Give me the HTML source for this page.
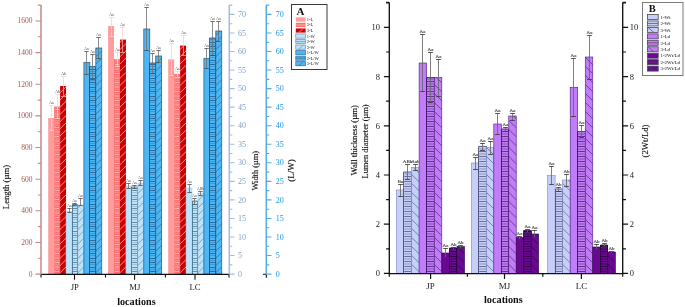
<!DOCTYPE html>
<html><head><meta charset="utf-8"><title>chart</title>
<style>
html,body{margin:0;padding:0;background:#fff;}
svg{display:block;font-family:"Liberation Serif", serif;will-change:transform;}
</style></head><body>
<svg width="685" height="307" viewBox="0 0 685 307">
<rect width="685" height="307" fill="#fff"/>
<defs>

</defs>
<rect x="48.20" y="118.00" width="5.95" height="156.10" fill="#FF9C9C"/>
<path d="M51.50 105.50V118.00M49.00 105.50h5" stroke="#FFCFCF" stroke-width="0.8" fill="none"/>
<path d="M51.50 118.00V130.50M49.00 130.50h5" stroke="#FFCACA" stroke-width="0.8" fill="none"/>
<text x="51.50" y="104.20" font-size="3.8" fill="#444" text-anchor="middle">Aa</text>
<rect x="54.15" y="106.50" width="5.95" height="167.60" fill="#FF6E6E"/>
<path d="M54.95 271.50H59.30M54.95 267.00H59.30M54.95 262.50H59.30M54.95 258.00H59.30M54.95 253.50H59.30M54.95 249.00H59.30M54.95 244.50H59.30M54.95 240.00H59.30M54.95 235.50H59.30M54.95 231.00H59.30M54.95 226.50H59.30M54.95 222.00H59.30M54.95 217.50H59.30M54.95 213.00H59.30M54.95 208.50H59.30M54.95 204.00H59.30M54.95 199.50H59.30M54.95 195.00H59.30M54.95 190.50H59.30M54.95 186.00H59.30M54.95 181.50H59.30M54.95 177.00H59.30M54.95 172.50H59.30M54.95 168.00H59.30M54.95 163.50H59.30M54.95 159.00H59.30M54.95 154.50H59.30M54.95 150.00H59.30M54.95 145.50H59.30M54.95 141.00H59.30M54.95 136.50H59.30M54.95 132.00H59.30M54.95 127.50H59.30M54.95 123.00H59.30M54.95 118.50H59.30M54.95 114.00H59.30M54.95 109.50H59.30" stroke="#FFE0E0" stroke-width="0.6" fill="none"/>
<path d="M54.95 269.25H59.30M54.95 264.75H59.30M54.95 260.25H59.30M54.95 255.75H59.30M54.95 251.25H59.30M54.95 246.75H59.30M54.95 242.25H59.30M54.95 237.75H59.30M54.95 233.25H59.30M54.95 228.75H59.30M54.95 224.25H59.30M54.95 219.75H59.30M54.95 215.25H59.30M54.95 210.75H59.30M54.95 206.25H59.30M54.95 201.75H59.30M54.95 197.25H59.30M54.95 192.75H59.30M54.95 188.25H59.30M54.95 183.75H59.30M54.95 179.25H59.30M54.95 174.75H59.30M54.95 170.25H59.30M54.95 165.75H59.30M54.95 161.25H59.30M54.95 156.75H59.30M54.95 152.25H59.30M54.95 147.75H59.30M54.95 143.25H59.30M54.95 138.75H59.30M54.95 134.25H59.30M54.95 129.75H59.30M54.95 125.25H59.30M54.95 120.75H59.30M54.95 116.25H59.30M54.95 111.75H59.30M54.95 107.25H59.30" stroke="#FFE0E0" stroke-width="0.6" stroke-opacity="0.5" fill="none"/>
<path d="M57.50 94.50V106.50M55.00 94.50h5" stroke="#FFCFCF" stroke-width="0.8" fill="none"/>
<path d="M57.50 106.50V118.50M55.00 118.50h5" stroke="#FFD0D0" stroke-width="0.8" fill="none"/>
<text x="57.50" y="93.20" font-size="3.8" fill="#444" text-anchor="middle">Ab</text>
<rect x="60.10" y="86.00" width="5.95" height="188.10" fill="#CC0000"/>
<clipPath id="c1"><rect x="60.10" y="86.00" width="5.95" height="188.10"/></clipPath>
<path clip-path="url(#c1)" d="M60.10 279.90L66.05 274.10M60.10 272.70L66.05 266.90M60.10 265.50L66.05 259.70M60.10 258.30L66.05 252.50M60.10 251.10L66.05 245.30M60.10 243.90L66.05 238.10M60.10 236.70L66.05 230.90M60.10 229.50L66.05 223.70M60.10 222.30L66.05 216.50M60.10 215.10L66.05 209.30M60.10 207.90L66.05 202.10M60.10 200.70L66.05 194.90M60.10 193.50L66.05 187.70M60.10 186.30L66.05 180.50M60.10 179.10L66.05 173.30M60.10 171.90L66.05 166.10M60.10 164.70L66.05 158.90M60.10 157.50L66.05 151.70M60.10 150.30L66.05 144.50M60.10 143.10L66.05 137.30M60.10 135.90L66.05 130.10M60.10 128.70L66.05 122.90M60.10 121.50L66.05 115.70M60.10 114.30L66.05 108.50M60.10 107.10L66.05 101.30M60.10 99.90L66.05 94.10M60.10 92.70L66.05 86.90M60.10 85.50L66.05 79.70" stroke="#FFD0D0" stroke-width="0.7" fill="none"/>
<path d="M63.50 76.50V86.00M61.00 76.50h5" stroke="#FFCFCF" stroke-width="0.8" fill="none"/>
<path d="M63.50 86.00V96.50M61.00 96.50h5" stroke="#F0A0A0" stroke-width="0.8" fill="none"/>
<text x="63.50" y="75.20" font-size="3.8" fill="#444" text-anchor="middle">Ab</text>
<rect x="66.05" y="211.80" width="5.95" height="62.30" fill="#BFE3F8" stroke="#9FC4DC" stroke-width="0.5"/>
<path d="M69.50 208.50V212.50" stroke="#707070" stroke-width="0.8" fill="none"/>
<path d="M67.30 208.50h4.4M67.30 212.50h4.4" stroke="#4c4c4c" stroke-width="0.8" fill="none"/>
<text x="69.50" y="207.20" font-size="3.8" fill="#444" text-anchor="middle">Aa</text>
<rect x="72.00" y="204.50" width="5.95" height="69.60" fill="#BFE3F8"/>
<path d="M72.5 274.1V204.50H77.5V274.1" stroke="#3F6F8E" stroke-width="0.85" fill="none"/>
<path d="M72.30 271.50H77.65M72.30 267.50H77.65M72.30 262.50H77.65M72.30 258.50H77.65M72.30 253.50H77.65M72.30 249.50H77.65M72.30 244.50H77.65M72.30 240.50H77.65M72.30 235.50H77.65M72.30 231.50H77.65M72.30 226.50H77.65M72.30 222.50H77.65M72.30 217.50H77.65M72.30 213.50H77.65M72.30 208.50H77.65" stroke="#3F6F8E" stroke-width="0.75" fill="none"/>
<path d="M72.30 269.50H77.65M72.30 264.50H77.65M72.30 260.50H77.65M72.30 255.50H77.65M72.30 251.50H77.65M72.30 246.50H77.65M72.30 242.50H77.65M72.30 237.50H77.65M72.30 233.50H77.65M72.30 228.50H77.65M72.30 224.50H77.65M72.30 219.50H77.65M72.30 215.50H77.65M72.30 210.50H77.65M72.30 206.50H77.65" stroke="#3F6F8E" stroke-width="0.75" stroke-opacity="0.4" fill="none"/>
<path d="M74.50 203.50V205.50" stroke="#707070" stroke-width="0.8" fill="none"/>
<path d="M72.30 203.50h4.4M72.30 205.50h4.4" stroke="#4c4c4c" stroke-width="0.8" fill="none"/>
<text x="74.50" y="202.20" font-size="3.8" fill="#444" text-anchor="middle">Aa</text>
<rect x="77.95" y="205.00" width="5.95" height="69.10" fill="#BFE3F8" stroke="#9FC4DC" stroke-width="0.5"/>
<clipPath id="c2"><rect x="77.95" y="205.00" width="5.95" height="69.10"/></clipPath>
<path clip-path="url(#c2)" d="M77.95 279.90L83.90 274.10M77.95 272.70L83.90 266.90M77.95 265.50L83.90 259.70M77.95 258.30L83.90 252.50M77.95 251.10L83.90 245.30M77.95 243.90L83.90 238.10M77.95 236.70L83.90 230.90M77.95 229.50L83.90 223.70M77.95 222.30L83.90 216.50M77.95 215.10L83.90 209.30M77.95 207.90L83.90 202.10M77.95 200.70L83.90 194.90" stroke="#4F7F9E" stroke-width="0.6" fill="none"/>
<path d="M80.50 198.50V205.50" stroke="#707070" stroke-width="0.8" fill="none"/>
<path d="M78.30 198.50h4.4M78.30 205.50h4.4" stroke="#4c4c4c" stroke-width="0.8" fill="none"/>
<text x="80.50" y="197.20" font-size="3.8" fill="#444" text-anchor="middle">Aa</text>
<rect x="83.90" y="62.40" width="5.95" height="211.70" fill="#4DB7F5" stroke="#2A5F8A" stroke-width="0.75"/>
<path d="M86.50 51.50V74.50" stroke="#707070" stroke-width="0.8" fill="none"/>
<path d="M84.30 51.50h4.4M84.30 74.50h4.4" stroke="#4c4c4c" stroke-width="0.8" fill="none"/>
<text x="86.50" y="50.20" font-size="3.8" fill="#444" text-anchor="middle">Aa</text>
<rect x="89.85" y="66.60" width="5.95" height="207.50" fill="#4DB7F5"/>
<path d="M89.5 274.1V66.60H95.5V274.1" stroke="#1F4F78" stroke-width="0.85" fill="none"/>
<path d="M90.15 271.50H95.50M90.15 267.50H95.50M90.15 262.50H95.50M90.15 258.50H95.50M90.15 253.50H95.50M90.15 249.50H95.50M90.15 244.50H95.50M90.15 240.50H95.50M90.15 235.50H95.50M90.15 231.50H95.50M90.15 226.50H95.50M90.15 222.50H95.50M90.15 217.50H95.50M90.15 213.50H95.50M90.15 208.50H95.50M90.15 204.50H95.50M90.15 199.50H95.50M90.15 195.50H95.50M90.15 190.50H95.50M90.15 186.50H95.50M90.15 181.50H95.50M90.15 177.50H95.50M90.15 172.50H95.50M90.15 168.50H95.50M90.15 163.50H95.50M90.15 159.50H95.50M90.15 154.50H95.50M90.15 150.50H95.50M90.15 145.50H95.50M90.15 141.50H95.50M90.15 136.50H95.50M90.15 132.50H95.50M90.15 127.50H95.50M90.15 123.50H95.50M90.15 118.50H95.50M90.15 114.50H95.50M90.15 109.50H95.50M90.15 105.50H95.50M90.15 100.50H95.50M90.15 96.50H95.50M90.15 91.50H95.50M90.15 87.50H95.50M90.15 82.50H95.50M90.15 78.50H95.50M90.15 73.50H95.50M90.15 69.50H95.50" stroke="#1F4F78" stroke-width="0.75" fill="none"/>
<path d="M90.15 269.50H95.50M90.15 264.50H95.50M90.15 260.50H95.50M90.15 255.50H95.50M90.15 251.50H95.50M90.15 246.50H95.50M90.15 242.50H95.50M90.15 237.50H95.50M90.15 233.50H95.50M90.15 228.50H95.50M90.15 224.50H95.50M90.15 219.50H95.50M90.15 215.50H95.50M90.15 210.50H95.50M90.15 206.50H95.50M90.15 201.50H95.50M90.15 197.50H95.50M90.15 192.50H95.50M90.15 188.50H95.50M90.15 183.50H95.50M90.15 179.50H95.50M90.15 174.50H95.50M90.15 170.50H95.50M90.15 165.50H95.50M90.15 161.50H95.50M90.15 156.50H95.50M90.15 152.50H95.50M90.15 147.50H95.50M90.15 143.50H95.50M90.15 138.50H95.50M90.15 134.50H95.50M90.15 129.50H95.50M90.15 125.50H95.50M90.15 120.50H95.50M90.15 116.50H95.50M90.15 111.50H95.50M90.15 107.50H95.50M90.15 102.50H95.50M90.15 98.50H95.50M90.15 93.50H95.50M90.15 89.50H95.50M90.15 84.50H95.50M90.15 80.50H95.50M90.15 75.50H95.50M90.15 71.50H95.50" stroke="#1F4F78" stroke-width="0.75" stroke-opacity="0.4" fill="none"/>
<path d="M92.50 54.50V79.50" stroke="#707070" stroke-width="0.8" fill="none"/>
<path d="M90.30 54.50h4.4M90.30 79.50h4.4" stroke="#4c4c4c" stroke-width="0.8" fill="none"/>
<text x="92.50" y="53.20" font-size="3.8" fill="#444" text-anchor="middle">Aa</text>
<rect x="95.80" y="48.00" width="5.95" height="226.10" fill="#4DB7F5" stroke="#2A5F8A" stroke-width="0.75"/>
<clipPath id="c3"><rect x="95.80" y="48.00" width="5.95" height="226.10"/></clipPath>
<path clip-path="url(#c3)" d="M95.80 279.90L101.75 274.10M95.80 272.70L101.75 266.90M95.80 265.50L101.75 259.70M95.80 258.30L101.75 252.50M95.80 251.10L101.75 245.30M95.80 243.90L101.75 238.10M95.80 236.70L101.75 230.90M95.80 229.50L101.75 223.70M95.80 222.30L101.75 216.50M95.80 215.10L101.75 209.30M95.80 207.90L101.75 202.10M95.80 200.70L101.75 194.90M95.80 193.50L101.75 187.70M95.80 186.30L101.75 180.50M95.80 179.10L101.75 173.30M95.80 171.90L101.75 166.10M95.80 164.70L101.75 158.90M95.80 157.50L101.75 151.70M95.80 150.30L101.75 144.50M95.80 143.10L101.75 137.30M95.80 135.90L101.75 130.10M95.80 128.70L101.75 122.90M95.80 121.50L101.75 115.70M95.80 114.30L101.75 108.50M95.80 107.10L101.75 101.30M95.80 99.90L101.75 94.10M95.80 92.70L101.75 86.90M95.80 85.50L101.75 79.70M95.80 78.30L101.75 72.50M95.80 71.10L101.75 65.30M95.80 63.90L101.75 58.10M95.80 56.70L101.75 50.90M95.80 49.50L101.75 43.70M95.80 42.30L101.75 36.50" stroke="#2A5F8A" stroke-width="0.65" fill="none"/>
<path d="M98.50 37.50V58.50" stroke="#707070" stroke-width="0.8" fill="none"/>
<path d="M96.30 37.50h4.4M96.30 58.50h4.4" stroke="#4c4c4c" stroke-width="0.8" fill="none"/>
<text x="98.50" y="36.20" font-size="3.8" fill="#444" text-anchor="middle">Aa</text>
<rect x="108.10" y="26.00" width="5.95" height="248.10" fill="#FF9C9C"/>
<path d="M111.50 17.50V26.00M109.00 17.50h5" stroke="#FFCFCF" stroke-width="0.8" fill="none"/>
<path d="M111.50 26.00V36.50M109.00 36.50h5" stroke="#FFCACA" stroke-width="0.8" fill="none"/>
<text x="111.50" y="16.20" font-size="3.8" fill="#444" text-anchor="middle">Aa</text>
<rect x="114.05" y="59.00" width="5.95" height="215.10" fill="#FF6E6E"/>
<path d="M114.85 271.50H119.20M114.85 267.00H119.20M114.85 262.50H119.20M114.85 258.00H119.20M114.85 253.50H119.20M114.85 249.00H119.20M114.85 244.50H119.20M114.85 240.00H119.20M114.85 235.50H119.20M114.85 231.00H119.20M114.85 226.50H119.20M114.85 222.00H119.20M114.85 217.50H119.20M114.85 213.00H119.20M114.85 208.50H119.20M114.85 204.00H119.20M114.85 199.50H119.20M114.85 195.00H119.20M114.85 190.50H119.20M114.85 186.00H119.20M114.85 181.50H119.20M114.85 177.00H119.20M114.85 172.50H119.20M114.85 168.00H119.20M114.85 163.50H119.20M114.85 159.00H119.20M114.85 154.50H119.20M114.85 150.00H119.20M114.85 145.50H119.20M114.85 141.00H119.20M114.85 136.50H119.20M114.85 132.00H119.20M114.85 127.50H119.20M114.85 123.00H119.20M114.85 118.50H119.20M114.85 114.00H119.20M114.85 109.50H119.20M114.85 105.00H119.20M114.85 100.50H119.20M114.85 96.00H119.20M114.85 91.50H119.20M114.85 87.00H119.20M114.85 82.50H119.20M114.85 78.00H119.20M114.85 73.50H119.20M114.85 69.00H119.20M114.85 64.50H119.20M114.85 60.00H119.20" stroke="#FFE0E0" stroke-width="0.6" fill="none"/>
<path d="M114.85 269.25H119.20M114.85 264.75H119.20M114.85 260.25H119.20M114.85 255.75H119.20M114.85 251.25H119.20M114.85 246.75H119.20M114.85 242.25H119.20M114.85 237.75H119.20M114.85 233.25H119.20M114.85 228.75H119.20M114.85 224.25H119.20M114.85 219.75H119.20M114.85 215.25H119.20M114.85 210.75H119.20M114.85 206.25H119.20M114.85 201.75H119.20M114.85 197.25H119.20M114.85 192.75H119.20M114.85 188.25H119.20M114.85 183.75H119.20M114.85 179.25H119.20M114.85 174.75H119.20M114.85 170.25H119.20M114.85 165.75H119.20M114.85 161.25H119.20M114.85 156.75H119.20M114.85 152.25H119.20M114.85 147.75H119.20M114.85 143.25H119.20M114.85 138.75H119.20M114.85 134.25H119.20M114.85 129.75H119.20M114.85 125.25H119.20M114.85 120.75H119.20M114.85 116.25H119.20M114.85 111.75H119.20M114.85 107.25H119.20M114.85 102.75H119.20M114.85 98.25H119.20M114.85 93.75H119.20M114.85 89.25H119.20M114.85 84.75H119.20M114.85 80.25H119.20M114.85 75.75H119.20M114.85 71.25H119.20M114.85 66.75H119.20M114.85 62.25H119.20" stroke="#FFE0E0" stroke-width="0.6" stroke-opacity="0.5" fill="none"/>
<path d="M117.50 52.50V59.00M115.00 52.50h5" stroke="#FFCFCF" stroke-width="0.8" fill="none"/>
<path d="M117.50 59.00V66.50M115.00 66.50h5" stroke="#FFD0D0" stroke-width="0.8" fill="none"/>
<text x="117.50" y="51.20" font-size="3.8" fill="#444" text-anchor="middle">Aa</text>
<rect x="120.00" y="39.60" width="5.95" height="234.50" fill="#CC0000"/>
<clipPath id="c4"><rect x="120.00" y="39.60" width="5.95" height="234.50"/></clipPath>
<path clip-path="url(#c4)" d="M120.00 279.90L125.95 274.10M120.00 272.70L125.95 266.90M120.00 265.50L125.95 259.70M120.00 258.30L125.95 252.50M120.00 251.10L125.95 245.30M120.00 243.90L125.95 238.10M120.00 236.70L125.95 230.90M120.00 229.50L125.95 223.70M120.00 222.30L125.95 216.50M120.00 215.10L125.95 209.30M120.00 207.90L125.95 202.10M120.00 200.70L125.95 194.90M120.00 193.50L125.95 187.70M120.00 186.30L125.95 180.50M120.00 179.10L125.95 173.30M120.00 171.90L125.95 166.10M120.00 164.70L125.95 158.90M120.00 157.50L125.95 151.70M120.00 150.30L125.95 144.50M120.00 143.10L125.95 137.30M120.00 135.90L125.95 130.10M120.00 128.70L125.95 122.90M120.00 121.50L125.95 115.70M120.00 114.30L125.95 108.50M120.00 107.10L125.95 101.30M120.00 99.90L125.95 94.10M120.00 92.70L125.95 86.90M120.00 85.50L125.95 79.70M120.00 78.30L125.95 72.50M120.00 71.10L125.95 65.30M120.00 63.90L125.95 58.10M120.00 56.70L125.95 50.90M120.00 49.50L125.95 43.70M120.00 42.30L125.95 36.50M120.00 35.10L125.95 29.30" stroke="#FFD0D0" stroke-width="0.7" fill="none"/>
<path d="M122.50 27.50V39.60M120.00 27.50h5" stroke="#FFCFCF" stroke-width="0.8" fill="none"/>
<path d="M122.50 39.60V52.50M120.00 52.50h5" stroke="#F0A0A0" stroke-width="0.8" fill="none"/>
<text x="122.50" y="26.20" font-size="3.8" fill="#444" text-anchor="middle">Aa</text>
<rect x="125.95" y="186.00" width="5.95" height="88.10" fill="#BFE3F8" stroke="#9FC4DC" stroke-width="0.5"/>
<path d="M128.50 183.50V188.50" stroke="#707070" stroke-width="0.8" fill="none"/>
<path d="M126.30 183.50h4.4M126.30 188.50h4.4" stroke="#4c4c4c" stroke-width="0.8" fill="none"/>
<text x="128.50" y="182.20" font-size="3.8" fill="#444" text-anchor="middle">Aa</text>
<rect x="131.90" y="187.00" width="5.95" height="87.10" fill="#BFE3F8"/>
<path d="M131.5 274.1V187.00H137.5V274.1" stroke="#3F6F8E" stroke-width="0.85" fill="none"/>
<path d="M132.20 271.50H137.55M132.20 267.50H137.55M132.20 262.50H137.55M132.20 258.50H137.55M132.20 253.50H137.55M132.20 249.50H137.55M132.20 244.50H137.55M132.20 240.50H137.55M132.20 235.50H137.55M132.20 231.50H137.55M132.20 226.50H137.55M132.20 222.50H137.55M132.20 217.50H137.55M132.20 213.50H137.55M132.20 208.50H137.55M132.20 204.50H137.55M132.20 199.50H137.55M132.20 195.50H137.55M132.20 190.50H137.55" stroke="#3F6F8E" stroke-width="0.75" fill="none"/>
<path d="M132.20 269.50H137.55M132.20 264.50H137.55M132.20 260.50H137.55M132.20 255.50H137.55M132.20 251.50H137.55M132.20 246.50H137.55M132.20 242.50H137.55M132.20 237.50H137.55M132.20 233.50H137.55M132.20 228.50H137.55M132.20 224.50H137.55M132.20 219.50H137.55M132.20 215.50H137.55M132.20 210.50H137.55M132.20 206.50H137.55M132.20 201.50H137.55M132.20 197.50H137.55M132.20 192.50H137.55M132.20 188.50H137.55" stroke="#3F6F8E" stroke-width="0.75" stroke-opacity="0.4" fill="none"/>
<path d="M134.50 185.50V188.50" stroke="#707070" stroke-width="0.8" fill="none"/>
<path d="M132.30 185.50h4.4M132.30 188.50h4.4" stroke="#4c4c4c" stroke-width="0.8" fill="none"/>
<text x="134.50" y="184.20" font-size="3.8" fill="#444" text-anchor="middle">Aa</text>
<rect x="137.85" y="183.00" width="5.95" height="91.10" fill="#BFE3F8" stroke="#9FC4DC" stroke-width="0.5"/>
<clipPath id="c5"><rect x="137.85" y="183.00" width="5.95" height="91.10"/></clipPath>
<path clip-path="url(#c5)" d="M137.85 279.90L143.80 274.10M137.85 272.70L143.80 266.90M137.85 265.50L143.80 259.70M137.85 258.30L143.80 252.50M137.85 251.10L143.80 245.30M137.85 243.90L143.80 238.10M137.85 236.70L143.80 230.90M137.85 229.50L143.80 223.70M137.85 222.30L143.80 216.50M137.85 215.10L143.80 209.30M137.85 207.90L143.80 202.10M137.85 200.70L143.80 194.90M137.85 193.50L143.80 187.70M137.85 186.30L143.80 180.50M137.85 179.10L143.80 173.30" stroke="#4F7F9E" stroke-width="0.6" fill="none"/>
<path d="M140.50 180.50V185.50" stroke="#707070" stroke-width="0.8" fill="none"/>
<path d="M138.30 180.50h4.4M138.30 185.50h4.4" stroke="#4c4c4c" stroke-width="0.8" fill="none"/>
<text x="140.50" y="179.20" font-size="3.8" fill="#444" text-anchor="middle">Aa</text>
<rect x="143.80" y="29.00" width="5.95" height="245.10" fill="#4DB7F5" stroke="#2A5F8A" stroke-width="0.75"/>
<path d="M146.50 7.50V50.50" stroke="#707070" stroke-width="0.8" fill="none"/>
<path d="M144.30 7.50h4.4M144.30 50.50h4.4" stroke="#4c4c4c" stroke-width="0.8" fill="none"/>
<text x="146.50" y="6.20" font-size="3.8" fill="#444" text-anchor="middle">Aa</text>
<rect x="149.75" y="63.00" width="5.95" height="211.10" fill="#4DB7F5"/>
<path d="M149.5 274.1V63.00H155.5V274.1" stroke="#1F4F78" stroke-width="0.85" fill="none"/>
<path d="M150.05 271.50H155.40M150.05 267.50H155.40M150.05 262.50H155.40M150.05 258.50H155.40M150.05 253.50H155.40M150.05 249.50H155.40M150.05 244.50H155.40M150.05 240.50H155.40M150.05 235.50H155.40M150.05 231.50H155.40M150.05 226.50H155.40M150.05 222.50H155.40M150.05 217.50H155.40M150.05 213.50H155.40M150.05 208.50H155.40M150.05 204.50H155.40M150.05 199.50H155.40M150.05 195.50H155.40M150.05 190.50H155.40M150.05 186.50H155.40M150.05 181.50H155.40M150.05 177.50H155.40M150.05 172.50H155.40M150.05 168.50H155.40M150.05 163.50H155.40M150.05 159.50H155.40M150.05 154.50H155.40M150.05 150.50H155.40M150.05 145.50H155.40M150.05 141.50H155.40M150.05 136.50H155.40M150.05 132.50H155.40M150.05 127.50H155.40M150.05 123.50H155.40M150.05 118.50H155.40M150.05 114.50H155.40M150.05 109.50H155.40M150.05 105.50H155.40M150.05 100.50H155.40M150.05 96.50H155.40M150.05 91.50H155.40M150.05 87.50H155.40M150.05 82.50H155.40M150.05 78.50H155.40M150.05 73.50H155.40M150.05 69.50H155.40M150.05 64.50H155.40" stroke="#1F4F78" stroke-width="0.75" fill="none"/>
<path d="M150.05 269.50H155.40M150.05 264.50H155.40M150.05 260.50H155.40M150.05 255.50H155.40M150.05 251.50H155.40M150.05 246.50H155.40M150.05 242.50H155.40M150.05 237.50H155.40M150.05 233.50H155.40M150.05 228.50H155.40M150.05 224.50H155.40M150.05 219.50H155.40M150.05 215.50H155.40M150.05 210.50H155.40M150.05 206.50H155.40M150.05 201.50H155.40M150.05 197.50H155.40M150.05 192.50H155.40M150.05 188.50H155.40M150.05 183.50H155.40M150.05 179.50H155.40M150.05 174.50H155.40M150.05 170.50H155.40M150.05 165.50H155.40M150.05 161.50H155.40M150.05 156.50H155.40M150.05 152.50H155.40M150.05 147.50H155.40M150.05 143.50H155.40M150.05 138.50H155.40M150.05 134.50H155.40M150.05 129.50H155.40M150.05 125.50H155.40M150.05 120.50H155.40M150.05 116.50H155.40M150.05 111.50H155.40M150.05 107.50H155.40M150.05 102.50H155.40M150.05 98.50H155.40M150.05 93.50H155.40M150.05 89.50H155.40M150.05 84.50H155.40M150.05 80.50H155.40M150.05 75.50H155.40M150.05 71.50H155.40M150.05 66.50H155.40" stroke="#1F4F78" stroke-width="0.75" stroke-opacity="0.4" fill="none"/>
<path d="M152.50 53.50V73.50" stroke="#707070" stroke-width="0.8" fill="none"/>
<path d="M150.30 53.50h4.4M150.30 73.50h4.4" stroke="#4c4c4c" stroke-width="0.8" fill="none"/>
<text x="152.50" y="52.20" font-size="3.8" fill="#444" text-anchor="middle">Aa</text>
<rect x="155.70" y="56.00" width="5.95" height="218.10" fill="#4DB7F5" stroke="#2A5F8A" stroke-width="0.75"/>
<clipPath id="c6"><rect x="155.70" y="56.00" width="5.95" height="218.10"/></clipPath>
<path clip-path="url(#c6)" d="M155.70 279.90L161.65 274.10M155.70 272.70L161.65 266.90M155.70 265.50L161.65 259.70M155.70 258.30L161.65 252.50M155.70 251.10L161.65 245.30M155.70 243.90L161.65 238.10M155.70 236.70L161.65 230.90M155.70 229.50L161.65 223.70M155.70 222.30L161.65 216.50M155.70 215.10L161.65 209.30M155.70 207.90L161.65 202.10M155.70 200.70L161.65 194.90M155.70 193.50L161.65 187.70M155.70 186.30L161.65 180.50M155.70 179.10L161.65 173.30M155.70 171.90L161.65 166.10M155.70 164.70L161.65 158.90M155.70 157.50L161.65 151.70M155.70 150.30L161.65 144.50M155.70 143.10L161.65 137.30M155.70 135.90L161.65 130.10M155.70 128.70L161.65 122.90M155.70 121.50L161.65 115.70M155.70 114.30L161.65 108.50M155.70 107.10L161.65 101.30M155.70 99.90L161.65 94.10M155.70 92.70L161.65 86.90M155.70 85.50L161.65 79.70M155.70 78.30L161.65 72.50M155.70 71.10L161.65 65.30M155.70 63.90L161.65 58.10M155.70 56.70L161.65 50.90" stroke="#2A5F8A" stroke-width="0.65" fill="none"/>
<path d="M158.50 50.50V62.50" stroke="#707070" stroke-width="0.8" fill="none"/>
<path d="M156.30 50.50h4.4M156.30 62.50h4.4" stroke="#4c4c4c" stroke-width="0.8" fill="none"/>
<text x="158.50" y="49.20" font-size="3.8" fill="#444" text-anchor="middle">Aa</text>
<rect x="168.20" y="59.40" width="5.95" height="214.70" fill="#FF9C9C"/>
<path d="M171.50 43.50V59.40M169.00 43.50h5" stroke="#FFCFCF" stroke-width="0.8" fill="none"/>
<path d="M171.50 59.40V75.50M169.00 75.50h5" stroke="#FFCACA" stroke-width="0.8" fill="none"/>
<text x="171.50" y="42.20" font-size="3.8" fill="#444" text-anchor="middle">Aa</text>
<rect x="174.15" y="74.00" width="5.95" height="200.10" fill="#FF6E6E"/>
<path d="M174.95 271.50H179.30M174.95 267.00H179.30M174.95 262.50H179.30M174.95 258.00H179.30M174.95 253.50H179.30M174.95 249.00H179.30M174.95 244.50H179.30M174.95 240.00H179.30M174.95 235.50H179.30M174.95 231.00H179.30M174.95 226.50H179.30M174.95 222.00H179.30M174.95 217.50H179.30M174.95 213.00H179.30M174.95 208.50H179.30M174.95 204.00H179.30M174.95 199.50H179.30M174.95 195.00H179.30M174.95 190.50H179.30M174.95 186.00H179.30M174.95 181.50H179.30M174.95 177.00H179.30M174.95 172.50H179.30M174.95 168.00H179.30M174.95 163.50H179.30M174.95 159.00H179.30M174.95 154.50H179.30M174.95 150.00H179.30M174.95 145.50H179.30M174.95 141.00H179.30M174.95 136.50H179.30M174.95 132.00H179.30M174.95 127.50H179.30M174.95 123.00H179.30M174.95 118.50H179.30M174.95 114.00H179.30M174.95 109.50H179.30M174.95 105.00H179.30M174.95 100.50H179.30M174.95 96.00H179.30M174.95 91.50H179.30M174.95 87.00H179.30M174.95 82.50H179.30M174.95 78.00H179.30" stroke="#FFE0E0" stroke-width="0.6" fill="none"/>
<path d="M174.95 269.25H179.30M174.95 264.75H179.30M174.95 260.25H179.30M174.95 255.75H179.30M174.95 251.25H179.30M174.95 246.75H179.30M174.95 242.25H179.30M174.95 237.75H179.30M174.95 233.25H179.30M174.95 228.75H179.30M174.95 224.25H179.30M174.95 219.75H179.30M174.95 215.25H179.30M174.95 210.75H179.30M174.95 206.25H179.30M174.95 201.75H179.30M174.95 197.25H179.30M174.95 192.75H179.30M174.95 188.25H179.30M174.95 183.75H179.30M174.95 179.25H179.30M174.95 174.75H179.30M174.95 170.25H179.30M174.95 165.75H179.30M174.95 161.25H179.30M174.95 156.75H179.30M174.95 152.25H179.30M174.95 147.75H179.30M174.95 143.25H179.30M174.95 138.75H179.30M174.95 134.25H179.30M174.95 129.75H179.30M174.95 125.25H179.30M174.95 120.75H179.30M174.95 116.25H179.30M174.95 111.75H179.30M174.95 107.25H179.30M174.95 102.75H179.30M174.95 98.25H179.30M174.95 93.75H179.30M174.95 89.25H179.30M174.95 84.75H179.30M174.95 80.25H179.30M174.95 75.75H179.30" stroke="#FFE0E0" stroke-width="0.6" stroke-opacity="0.5" fill="none"/>
<path d="M177.50 71.50V74.00M175.00 71.50h5" stroke="#FFCFCF" stroke-width="0.8" fill="none"/>
<path d="M177.50 74.00V77.50M175.00 77.50h5" stroke="#FFD0D0" stroke-width="0.8" fill="none"/>
<text x="177.50" y="70.20" font-size="3.8" fill="#444" text-anchor="middle">Aa</text>
<rect x="180.10" y="45.60" width="5.95" height="228.50" fill="#CC0000"/>
<clipPath id="c7"><rect x="180.10" y="45.60" width="5.95" height="228.50"/></clipPath>
<path clip-path="url(#c7)" d="M180.10 279.90L186.05 274.10M180.10 272.70L186.05 266.90M180.10 265.50L186.05 259.70M180.10 258.30L186.05 252.50M180.10 251.10L186.05 245.30M180.10 243.90L186.05 238.10M180.10 236.70L186.05 230.90M180.10 229.50L186.05 223.70M180.10 222.30L186.05 216.50M180.10 215.10L186.05 209.30M180.10 207.90L186.05 202.10M180.10 200.70L186.05 194.90M180.10 193.50L186.05 187.70M180.10 186.30L186.05 180.50M180.10 179.10L186.05 173.30M180.10 171.90L186.05 166.10M180.10 164.70L186.05 158.90M180.10 157.50L186.05 151.70M180.10 150.30L186.05 144.50M180.10 143.10L186.05 137.30M180.10 135.90L186.05 130.10M180.10 128.70L186.05 122.90M180.10 121.50L186.05 115.70M180.10 114.30L186.05 108.50M180.10 107.10L186.05 101.30M180.10 99.90L186.05 94.10M180.10 92.70L186.05 86.90M180.10 85.50L186.05 79.70M180.10 78.30L186.05 72.50M180.10 71.10L186.05 65.30M180.10 63.90L186.05 58.10M180.10 56.70L186.05 50.90M180.10 49.50L186.05 43.70M180.10 42.30L186.05 36.50" stroke="#FFD0D0" stroke-width="0.7" fill="none"/>
<path d="M183.50 35.50V45.60M181.00 35.50h5" stroke="#FFCFCF" stroke-width="0.8" fill="none"/>
<path d="M183.50 45.60V55.50M181.00 55.50h5" stroke="#F0A0A0" stroke-width="0.8" fill="none"/>
<text x="183.50" y="34.20" font-size="3.8" fill="#444" text-anchor="middle">Aa</text>
<rect x="186.05" y="188.00" width="5.95" height="86.10" fill="#BFE3F8" stroke="#9FC4DC" stroke-width="0.5"/>
<path d="M189.50 184.50V192.50" stroke="#707070" stroke-width="0.8" fill="none"/>
<path d="M187.30 184.50h4.4M187.30 192.50h4.4" stroke="#4c4c4c" stroke-width="0.8" fill="none"/>
<text x="189.50" y="183.20" font-size="3.8" fill="#444" text-anchor="middle">Aa</text>
<rect x="192.00" y="201.00" width="5.95" height="73.10" fill="#BFE3F8"/>
<path d="M192.5 274.1V201.00H197.5V274.1" stroke="#3F6F8E" stroke-width="0.85" fill="none"/>
<path d="M192.30 271.50H197.65M192.30 267.50H197.65M192.30 262.50H197.65M192.30 258.50H197.65M192.30 253.50H197.65M192.30 249.50H197.65M192.30 244.50H197.65M192.30 240.50H197.65M192.30 235.50H197.65M192.30 231.50H197.65M192.30 226.50H197.65M192.30 222.50H197.65M192.30 217.50H197.65M192.30 213.50H197.65M192.30 208.50H197.65M192.30 204.50H197.65" stroke="#3F6F8E" stroke-width="0.75" fill="none"/>
<path d="M192.30 269.50H197.65M192.30 264.50H197.65M192.30 260.50H197.65M192.30 255.50H197.65M192.30 251.50H197.65M192.30 246.50H197.65M192.30 242.50H197.65M192.30 237.50H197.65M192.30 233.50H197.65M192.30 228.50H197.65M192.30 224.50H197.65M192.30 219.50H197.65M192.30 215.50H197.65M192.30 210.50H197.65M192.30 206.50H197.65M192.30 201.50H197.65" stroke="#3F6F8E" stroke-width="0.75" stroke-opacity="0.4" fill="none"/>
<path d="M194.50 198.50V204.50" stroke="#707070" stroke-width="0.8" fill="none"/>
<path d="M192.30 198.50h4.4M192.30 204.50h4.4" stroke="#4c4c4c" stroke-width="0.8" fill="none"/>
<text x="194.50" y="197.20" font-size="3.8" fill="#444" text-anchor="middle">Aa</text>
<rect x="197.95" y="193.00" width="5.95" height="81.10" fill="#BFE3F8" stroke="#9FC4DC" stroke-width="0.5"/>
<clipPath id="c8"><rect x="197.95" y="193.00" width="5.95" height="81.10"/></clipPath>
<path clip-path="url(#c8)" d="M197.95 279.90L203.90 274.10M197.95 272.70L203.90 266.90M197.95 265.50L203.90 259.70M197.95 258.30L203.90 252.50M197.95 251.10L203.90 245.30M197.95 243.90L203.90 238.10M197.95 236.70L203.90 230.90M197.95 229.50L203.90 223.70M197.95 222.30L203.90 216.50M197.95 215.10L203.90 209.30M197.95 207.90L203.90 202.10M197.95 200.70L203.90 194.90M197.95 193.50L203.90 187.70" stroke="#4F7F9E" stroke-width="0.6" fill="none"/>
<path d="M200.50 191.50V195.50" stroke="#707070" stroke-width="0.8" fill="none"/>
<path d="M198.30 191.50h4.4M198.30 195.50h4.4" stroke="#4c4c4c" stroke-width="0.8" fill="none"/>
<text x="200.50" y="190.20" font-size="3.8" fill="#444" text-anchor="middle">ABb</text>
<rect x="203.90" y="58.40" width="5.95" height="215.70" fill="#4DB7F5" stroke="#2A5F8A" stroke-width="0.75"/>
<path d="M206.50 48.50V68.50" stroke="#707070" stroke-width="0.8" fill="none"/>
<path d="M204.30 48.50h4.4M204.30 68.50h4.4" stroke="#4c4c4c" stroke-width="0.8" fill="none"/>
<text x="206.50" y="47.20" font-size="3.8" fill="#444" text-anchor="middle">Aa</text>
<rect x="209.85" y="38.00" width="5.95" height="236.10" fill="#4DB7F5"/>
<path d="M209.5 274.1V38.00H215.5V274.1" stroke="#1F4F78" stroke-width="0.85" fill="none"/>
<path d="M210.15 271.50H215.50M210.15 267.50H215.50M210.15 262.50H215.50M210.15 258.50H215.50M210.15 253.50H215.50M210.15 249.50H215.50M210.15 244.50H215.50M210.15 240.50H215.50M210.15 235.50H215.50M210.15 231.50H215.50M210.15 226.50H215.50M210.15 222.50H215.50M210.15 217.50H215.50M210.15 213.50H215.50M210.15 208.50H215.50M210.15 204.50H215.50M210.15 199.50H215.50M210.15 195.50H215.50M210.15 190.50H215.50M210.15 186.50H215.50M210.15 181.50H215.50M210.15 177.50H215.50M210.15 172.50H215.50M210.15 168.50H215.50M210.15 163.50H215.50M210.15 159.50H215.50M210.15 154.50H215.50M210.15 150.50H215.50M210.15 145.50H215.50M210.15 141.50H215.50M210.15 136.50H215.50M210.15 132.50H215.50M210.15 127.50H215.50M210.15 123.50H215.50M210.15 118.50H215.50M210.15 114.50H215.50M210.15 109.50H215.50M210.15 105.50H215.50M210.15 100.50H215.50M210.15 96.50H215.50M210.15 91.50H215.50M210.15 87.50H215.50M210.15 82.50H215.50M210.15 78.50H215.50M210.15 73.50H215.50M210.15 69.50H215.50M210.15 64.50H215.50M210.15 60.50H215.50M210.15 55.50H215.50M210.15 51.50H215.50M210.15 46.50H215.50M210.15 42.50H215.50" stroke="#1F4F78" stroke-width="0.75" fill="none"/>
<path d="M210.15 269.50H215.50M210.15 264.50H215.50M210.15 260.50H215.50M210.15 255.50H215.50M210.15 251.50H215.50M210.15 246.50H215.50M210.15 242.50H215.50M210.15 237.50H215.50M210.15 233.50H215.50M210.15 228.50H215.50M210.15 224.50H215.50M210.15 219.50H215.50M210.15 215.50H215.50M210.15 210.50H215.50M210.15 206.50H215.50M210.15 201.50H215.50M210.15 197.50H215.50M210.15 192.50H215.50M210.15 188.50H215.50M210.15 183.50H215.50M210.15 179.50H215.50M210.15 174.50H215.50M210.15 170.50H215.50M210.15 165.50H215.50M210.15 161.50H215.50M210.15 156.50H215.50M210.15 152.50H215.50M210.15 147.50H215.50M210.15 143.50H215.50M210.15 138.50H215.50M210.15 134.50H215.50M210.15 129.50H215.50M210.15 125.50H215.50M210.15 120.50H215.50M210.15 116.50H215.50M210.15 111.50H215.50M210.15 107.50H215.50M210.15 102.50H215.50M210.15 98.50H215.50M210.15 93.50H215.50M210.15 89.50H215.50M210.15 84.50H215.50M210.15 80.50H215.50M210.15 75.50H215.50M210.15 71.50H215.50M210.15 66.50H215.50M210.15 62.50H215.50M210.15 57.50H215.50M210.15 53.50H215.50M210.15 48.50H215.50M210.15 44.50H215.50M210.15 39.50H215.50" stroke="#1F4F78" stroke-width="0.75" stroke-opacity="0.4" fill="none"/>
<path d="M212.50 21.50V55.50" stroke="#707070" stroke-width="0.8" fill="none"/>
<path d="M210.30 21.50h4.4M210.30 55.50h4.4" stroke="#4c4c4c" stroke-width="0.8" fill="none"/>
<text x="212.50" y="20.20" font-size="3.8" fill="#444" text-anchor="middle">Aa</text>
<rect x="215.80" y="31.00" width="5.95" height="243.10" fill="#4DB7F5" stroke="#2A5F8A" stroke-width="0.75"/>
<clipPath id="c9"><rect x="215.80" y="31.00" width="5.95" height="243.10"/></clipPath>
<path clip-path="url(#c9)" d="M215.80 279.90L221.75 274.10M215.80 272.70L221.75 266.90M215.80 265.50L221.75 259.70M215.80 258.30L221.75 252.50M215.80 251.10L221.75 245.30M215.80 243.90L221.75 238.10M215.80 236.70L221.75 230.90M215.80 229.50L221.75 223.70M215.80 222.30L221.75 216.50M215.80 215.10L221.75 209.30M215.80 207.90L221.75 202.10M215.80 200.70L221.75 194.90M215.80 193.50L221.75 187.70M215.80 186.30L221.75 180.50M215.80 179.10L221.75 173.30M215.80 171.90L221.75 166.10M215.80 164.70L221.75 158.90M215.80 157.50L221.75 151.70M215.80 150.30L221.75 144.50M215.80 143.10L221.75 137.30M215.80 135.90L221.75 130.10M215.80 128.70L221.75 122.90M215.80 121.50L221.75 115.70M215.80 114.30L221.75 108.50M215.80 107.10L221.75 101.30M215.80 99.90L221.75 94.10M215.80 92.70L221.75 86.90M215.80 85.50L221.75 79.70M215.80 78.30L221.75 72.50M215.80 71.10L221.75 65.30M215.80 63.90L221.75 58.10M215.80 56.70L221.75 50.90M215.80 49.50L221.75 43.70M215.80 42.30L221.75 36.50M215.80 35.10L221.75 29.30M215.80 27.90L221.75 22.10" stroke="#2A5F8A" stroke-width="0.65" fill="none"/>
<path d="M218.50 21.50V41.50" stroke="#707070" stroke-width="0.8" fill="none"/>
<path d="M216.30 21.50h4.4M216.30 41.50h4.4" stroke="#4c4c4c" stroke-width="0.8" fill="none"/>
<text x="218.50" y="20.20" font-size="3.8" fill="#444" text-anchor="middle">Aa</text>
<path d="M40.30 274.30H229.80" stroke="#111" stroke-width="1.3" fill="none"/>
<path d="M74.5 274.1v5.6" stroke="#111" stroke-width="1.1"/>
<path d="M134.6 274.1v5.6" stroke="#111" stroke-width="1.1"/>
<path d="M195.0 274.1v5.6" stroke="#111" stroke-width="1.1"/>
<path d="M41.0 274.1v3.4" stroke="#111" stroke-width="1.1"/>
<path d="M105.5 274.1v3.4" stroke="#111" stroke-width="1.1"/>
<path d="M165.4 274.1v3.4" stroke="#111" stroke-width="1.1"/>
<path d="M229.0 274.1v3.4" stroke="#111" stroke-width="1.1"/>
<path d="M263 274.30H266.80M266.3 274.1v3.6" stroke="#111" stroke-width="1.1" fill="none"/>
<text x="74.80" y="289.50" font-size="8.7" fill="#222" text-anchor="middle">JP</text>
<text x="134.80" y="289.50" font-size="8.7" fill="#222" text-anchor="middle">MJ</text>
<text x="195.00" y="289.50" font-size="8.7" fill="#222" text-anchor="middle">LC</text>
<text x="136.40" y="304.50" font-size="10.2" fill="#111" text-anchor="middle" font-weight="bold">locations</text>
<path d="M41.0 5.0V274.6" stroke="#C4898C" stroke-width="1.5" fill="none"/>
<path d="M41.0 274.10h-5.6M41.0 258.28h-3.2M41.0 242.46h-5.6M41.0 226.64h-3.2M41.0 210.82h-5.6M41.0 195.00h-3.2M41.0 179.18h-5.6M41.0 163.36h-3.2M41.0 147.54h-5.6M41.0 131.72h-3.2M41.0 115.90h-5.6M41.0 100.08h-3.2M41.0 84.26h-5.6M41.0 68.44h-3.2M41.0 52.62h-5.6M41.0 36.80h-3.2M41.0 20.98h-5.6M41.0 5.16h-3.2M41.0 5.0h-3.2" stroke="#C4898C" stroke-width="1.1" fill="none"/>
<text x="32.60" y="276.60" font-size="7.5" fill="#A6574E" text-anchor="end">0</text>
<text x="32.60" y="244.96" font-size="7.5" fill="#A6574E" text-anchor="end">200</text>
<text x="32.60" y="213.32" font-size="7.5" fill="#A6574E" text-anchor="end">400</text>
<text x="32.60" y="181.68" font-size="7.5" fill="#A6574E" text-anchor="end">600</text>
<text x="32.60" y="150.04" font-size="7.5" fill="#A6574E" text-anchor="end">800</text>
<text x="32.60" y="118.40" font-size="7.5" fill="#A6574E" text-anchor="end">1000</text>
<text x="32.60" y="86.76" font-size="7.5" fill="#A6574E" text-anchor="end">1200</text>
<text x="32.60" y="55.12" font-size="7.5" fill="#A6574E" text-anchor="end">1400</text>
<text x="32.60" y="23.48" font-size="7.5" fill="#A6574E" text-anchor="end">1600</text>
<text x="8.90" y="187.00" font-size="8.7" fill="#111" text-anchor="middle" transform="rotate(-90 8.90 187.00)" stroke="#111" stroke-width="0.15">Length (µm)</text>
<path d="M229.3 5.0V274.6" stroke="#A3BCD5" stroke-width="1.5" fill="none"/>
<path d="M229.3 274.10h5.2M229.3 264.83h3.0M229.3 255.55h5.2M229.3 246.28h3.0M229.3 237.00h5.2M229.3 227.73h3.0M229.3 218.45h5.2M229.3 209.18h3.0M229.3 199.90h5.2M229.3 190.63h3.0M229.3 181.35h5.2M229.3 172.08h3.0M229.3 162.80h5.2M229.3 153.53h3.0M229.3 144.25h5.2M229.3 134.98h3.0M229.3 125.70h5.2M229.3 116.43h3.0M229.3 107.15h5.2M229.3 97.88h3.0M229.3 88.60h5.2M229.3 79.33h3.0M229.3 70.05h5.2M229.3 60.78h3.0M229.3 51.50h5.2M229.3 42.23h3.0M229.3 32.95h5.2M229.3 23.68h3.0M229.3 14.40h5.2M229.3 5.12h3.0M229.3 5.0h3" stroke="#A3BCD5" stroke-width="1.1" fill="none"/>
<text x="238.00" y="276.70" font-size="8" fill="#7E9FBE">0</text>
<text x="238.00" y="258.15" font-size="8" fill="#7E9FBE">5</text>
<text x="238.00" y="239.60" font-size="8" fill="#7E9FBE">10</text>
<text x="238.00" y="221.05" font-size="8" fill="#7E9FBE">15</text>
<text x="238.00" y="202.50" font-size="8" fill="#7E9FBE">20</text>
<text x="238.00" y="183.95" font-size="8" fill="#7E9FBE">25</text>
<text x="238.00" y="165.40" font-size="8" fill="#7E9FBE">30</text>
<text x="238.00" y="146.85" font-size="8" fill="#7E9FBE">35</text>
<text x="238.00" y="128.30" font-size="8" fill="#7E9FBE">40</text>
<text x="238.00" y="109.75" font-size="8" fill="#7E9FBE">45</text>
<text x="238.00" y="91.20" font-size="8" fill="#7E9FBE">50</text>
<text x="238.00" y="72.65" font-size="8" fill="#7E9FBE">55</text>
<text x="238.00" y="54.10" font-size="8" fill="#7E9FBE">60</text>
<text x="238.00" y="35.55" font-size="8" fill="#7E9FBE">65</text>
<text x="238.00" y="17.00" font-size="8" fill="#7E9FBE">70</text>
<text x="257.70" y="170.70" font-size="8.4" fill="#111" text-anchor="middle" transform="rotate(-90 257.70 170.70)" stroke="#111" stroke-width="0.15">Width (µm)</text>
<path d="M266.3 5.0V274.6" stroke="#52ABE2" stroke-width="1.5" fill="none"/>
<path d="M266.3 274.10h5.2M266.3 264.83h3.0M266.3 255.55h5.2M266.3 246.28h3.0M266.3 237.00h5.2M266.3 227.73h3.0M266.3 218.45h5.2M266.3 209.18h3.0M266.3 199.90h5.2M266.3 190.63h3.0M266.3 181.35h5.2M266.3 172.08h3.0M266.3 162.80h5.2M266.3 153.53h3.0M266.3 144.25h5.2M266.3 134.98h3.0M266.3 125.70h5.2M266.3 116.43h3.0M266.3 107.15h5.2M266.3 97.88h3.0M266.3 88.60h5.2M266.3 79.33h3.0M266.3 70.05h5.2M266.3 60.78h3.0M266.3 51.50h5.2M266.3 42.23h3.0M266.3 32.95h5.2M266.3 23.68h3.0M266.3 14.40h5.2M266.3 5.12h3.0M266.3 5.0h3" stroke="#52ABE2" stroke-width="1.1" fill="none"/>
<text x="275.80" y="276.70" font-size="8" fill="#2198DE">0</text>
<text x="275.80" y="258.15" font-size="8" fill="#2198DE">5</text>
<text x="275.80" y="239.60" font-size="8" fill="#2198DE">10</text>
<text x="275.80" y="221.05" font-size="8" fill="#2198DE">15</text>
<text x="275.80" y="202.50" font-size="8" fill="#2198DE">20</text>
<text x="275.80" y="183.95" font-size="8" fill="#2198DE">25</text>
<text x="275.80" y="165.40" font-size="8" fill="#2198DE">30</text>
<text x="275.80" y="146.85" font-size="8" fill="#2198DE">35</text>
<text x="275.80" y="128.30" font-size="8" fill="#2198DE">40</text>
<text x="275.80" y="109.75" font-size="8" fill="#2198DE">45</text>
<text x="275.80" y="91.20" font-size="8" fill="#2198DE">50</text>
<text x="275.80" y="72.65" font-size="8" fill="#2198DE">55</text>
<text x="275.80" y="54.10" font-size="8" fill="#2198DE">60</text>
<text x="275.80" y="35.55" font-size="8" fill="#2198DE">65</text>
<text x="275.80" y="17.00" font-size="8" fill="#2198DE">70</text>
<text x="294.00" y="170.40" font-size="9" fill="#111" text-anchor="middle" transform="rotate(-90 294.00 170.40)" stroke="#111" stroke-width="0.15">(L/W)</text>
<rect x="291.5" y="4.5" width="35.5" height="65" fill="#fff" stroke="#3a3a3a" stroke-width="1"/>
<text x="296.40" y="14.80" font-size="11" fill="#111" font-weight="bold">A</text>
<rect x="295.8" y="17.35" width="9.8" height="4.2" fill="#FF9C9C"/>
<text x="306.80" y="20.95" font-size="4.5" fill="#222">1-L</text>
<rect x="295.8" y="22.88" width="9.8" height="4.2" fill="#FF6E6E"/>
<path d="M295.8 24.98h9.8" stroke="#FFD6D6" stroke-width="0.6"/>
<text x="306.80" y="26.48" font-size="4.5" fill="#222">2-L</text>
<rect x="295.8" y="28.41" width="9.8" height="4.2" fill="#CC0000"/>
<path d="M298.8 32.61L303.3 28.41" stroke="#FFDADA" stroke-width="0.6"/>
<text x="306.80" y="32.01" font-size="4.5" fill="#222">3-L</text>
<rect x="295.8" y="33.94" width="9.8" height="4.2" fill="#BFE3F8" stroke="#4F7F9E" stroke-width="0.6"/>
<text x="306.80" y="37.54" font-size="4.5" fill="#222">1-W</text>
<rect x="295.8" y="39.47" width="9.8" height="4.2" fill="#BFE3F8" stroke="#4F7F9E" stroke-width="0.6"/>
<path d="M295.8 41.57h9.8" stroke="#4F7F9E" stroke-width="0.6"/>
<text x="306.80" y="43.07" font-size="4.5" fill="#222">2-W</text>
<rect x="295.8" y="45.00" width="9.8" height="4.2" fill="#BFE3F8" stroke="#4F7F9E" stroke-width="0.6"/>
<path d="M298.8 49.20L303.3 45.00" stroke="#4F7F9E" stroke-width="0.6"/>
<text x="306.80" y="48.60" font-size="4.5" fill="#222">3-W</text>
<rect x="295.8" y="50.53" width="9.8" height="4.2" fill="#4DB7F5" stroke="#2A5F8A" stroke-width="0.6"/>
<text x="306.80" y="54.13" font-size="4.5" fill="#222">1-L/W</text>
<rect x="295.8" y="56.06" width="9.8" height="4.2" fill="#4DB7F5" stroke="#2A5F8A" stroke-width="0.6"/>
<path d="M295.8 58.16h9.8" stroke="#2A5F8A" stroke-width="0.6"/>
<text x="306.80" y="59.66" font-size="4.5" fill="#222">2-L/W</text>
<rect x="295.8" y="61.59" width="9.8" height="4.2" fill="#4DB7F5" stroke="#2A5F8A" stroke-width="0.6"/>
<path d="M298.8 65.79L303.3 61.59" stroke="#2A5F8A" stroke-width="0.6"/>
<text x="306.80" y="65.19" font-size="4.5" fill="#222">3-L/W</text>
<rect x="396.40" y="190.00" width="7.57" height="83.40" fill="#C6CFFA" stroke="#7C86C0" stroke-width="0.6"/>
<path d="M400.50 184.50V196.50" stroke="#686868" stroke-width="0.85" fill="none"/>
<path d="M398.10 184.50h4.8M398.10 196.50h4.8" stroke="#3a3a3a" stroke-width="0.85" fill="none"/>
<text x="400.50" y="183.10" font-size="5" fill="#2a2a2a" text-anchor="middle" stroke="#2a2a2a" stroke-width="0.1">Ba</text>
<rect x="403.97" y="172.00" width="7.57" height="101.40" fill="#C6CFFA"/>
<path d="M403.5 273.4V172.00H411.5V273.4" stroke="#41466c" stroke-width="0.85" fill="none"/>
<path d="M404.27 271.50H411.24M404.27 266.50H411.24M404.27 261.50H411.24M404.27 256.50H411.24M404.27 251.50H411.24M404.27 246.50H411.24M404.27 241.50H411.24M404.27 236.50H411.24M404.27 231.50H411.24M404.27 226.50H411.24M404.27 221.50H411.24M404.27 216.50H411.24M404.27 211.50H411.24M404.27 206.50H411.24M404.27 201.50H411.24M404.27 196.50H411.24M404.27 191.50H411.24M404.27 186.50H411.24M404.27 181.50H411.24M404.27 176.50H411.24" stroke="#41466c" stroke-width="0.7" fill="none"/>
<path d="M404.27 269.00H411.24M404.27 264.00H411.24M404.27 259.00H411.24M404.27 254.00H411.24M404.27 249.00H411.24M404.27 244.00H411.24M404.27 239.00H411.24M404.27 234.00H411.24M404.27 229.00H411.24M404.27 224.00H411.24M404.27 219.00H411.24M404.27 214.00H411.24M404.27 209.00H411.24M404.27 204.00H411.24M404.27 199.00H411.24M404.27 194.00H411.24M404.27 189.00H411.24M404.27 184.00H411.24M404.27 179.00H411.24M404.27 174.00H411.24" stroke="#41466c" stroke-width="0.7" stroke-opacity="0.6" fill="none"/>
<path d="M407.50 164.50V179.50" stroke="#686868" stroke-width="0.85" fill="none"/>
<path d="M405.10 164.50h4.8M405.10 179.50h4.8" stroke="#3a3a3a" stroke-width="0.85" fill="none"/>
<text x="407.50" y="163.10" font-size="5" fill="#2a2a2a" text-anchor="middle" stroke="#2a2a2a" stroke-width="0.1">ABb</text>
<rect x="411.54" y="167.60" width="7.57" height="105.80" fill="#C6CFFA" stroke="#7C86C0" stroke-width="0.6"/>
<clipPath id="c10"><rect x="411.54" y="167.60" width="7.57" height="105.80"/></clipPath>
<path clip-path="url(#c10)" d="M411.54 273.40L419.11 280.80M411.54 264.40L419.11 271.80M411.54 255.40L419.11 262.80M411.54 246.40L419.11 253.80M411.54 237.40L419.11 244.80M411.54 228.40L419.11 235.80M411.54 219.40L419.11 226.80M411.54 210.40L419.11 217.80M411.54 201.40L419.11 208.80M411.54 192.40L419.11 199.80M411.54 183.40L419.11 190.80M411.54 174.40L419.11 181.80M411.54 165.40L419.11 172.80M411.54 156.40L419.11 163.80" stroke="#4A5590" stroke-width="0.65" fill="none"/>
<path d="M415.50 164.50V170.50" stroke="#686868" stroke-width="0.85" fill="none"/>
<path d="M413.10 164.50h4.8M413.10 170.50h4.8" stroke="#3a3a3a" stroke-width="0.85" fill="none"/>
<text x="415.50" y="163.10" font-size="5" fill="#2a2a2a" text-anchor="middle" stroke="#2a2a2a" stroke-width="0.1">Aab</text>
<rect x="419.11" y="63.00" width="7.57" height="210.40" fill="#C17DF7" stroke="#4B1A78" stroke-width="0.6"/>
<path d="M422.50 34.50V91.50" stroke="#686868" stroke-width="0.85" fill="none"/>
<path d="M420.10 34.50h4.8M420.10 91.50h4.8" stroke="#3a3a3a" stroke-width="0.85" fill="none"/>
<text x="422.50" y="33.10" font-size="5" fill="#2a2a2a" text-anchor="middle" stroke="#2a2a2a" stroke-width="0.1">Aa</text>
<rect x="426.68" y="77.60" width="7.57" height="195.80" fill="#C17DF7"/>
<path d="M426.5 273.4V77.60H434.5V273.4" stroke="#3A0E66" stroke-width="0.85" fill="none"/>
<path d="M426.98 271.50H433.95M426.98 266.50H433.95M426.98 261.50H433.95M426.98 256.50H433.95M426.98 251.50H433.95M426.98 246.50H433.95M426.98 241.50H433.95M426.98 236.50H433.95M426.98 231.50H433.95M426.98 226.50H433.95M426.98 221.50H433.95M426.98 216.50H433.95M426.98 211.50H433.95M426.98 206.50H433.95M426.98 201.50H433.95M426.98 196.50H433.95M426.98 191.50H433.95M426.98 186.50H433.95M426.98 181.50H433.95M426.98 176.50H433.95M426.98 171.50H433.95M426.98 166.50H433.95M426.98 161.50H433.95M426.98 156.50H433.95M426.98 151.50H433.95M426.98 146.50H433.95M426.98 141.50H433.95M426.98 136.50H433.95M426.98 131.50H433.95M426.98 126.50H433.95M426.98 121.50H433.95M426.98 116.50H433.95M426.98 111.50H433.95M426.98 106.50H433.95M426.98 101.50H433.95M426.98 96.50H433.95M426.98 91.50H433.95M426.98 86.50H433.95M426.98 81.50H433.95" stroke="#3A0E66" stroke-width="0.7" fill="none"/>
<path d="M426.98 269.00H433.95M426.98 264.00H433.95M426.98 259.00H433.95M426.98 254.00H433.95M426.98 249.00H433.95M426.98 244.00H433.95M426.98 239.00H433.95M426.98 234.00H433.95M426.98 229.00H433.95M426.98 224.00H433.95M426.98 219.00H433.95M426.98 214.00H433.95M426.98 209.00H433.95M426.98 204.00H433.95M426.98 199.00H433.95M426.98 194.00H433.95M426.98 189.00H433.95M426.98 184.00H433.95M426.98 179.00H433.95M426.98 174.00H433.95M426.98 169.00H433.95M426.98 164.00H433.95M426.98 159.00H433.95M426.98 154.00H433.95M426.98 149.00H433.95M426.98 144.00H433.95M426.98 139.00H433.95M426.98 134.00H433.95M426.98 129.00H433.95M426.98 124.00H433.95M426.98 119.00H433.95M426.98 114.00H433.95M426.98 109.00H433.95M426.98 104.00H433.95M426.98 99.00H433.95M426.98 94.00H433.95M426.98 89.00H433.95M426.98 84.00H433.95M426.98 79.00H433.95" stroke="#3A0E66" stroke-width="0.7" stroke-opacity="0.6" fill="none"/>
<path d="M430.50 52.50V102.50" stroke="#686868" stroke-width="0.85" fill="none"/>
<path d="M428.10 52.50h4.8M428.10 102.50h4.8" stroke="#3a3a3a" stroke-width="0.85" fill="none"/>
<text x="430.50" y="51.10" font-size="5" fill="#2a2a2a" text-anchor="middle" stroke="#2a2a2a" stroke-width="0.1">Aa</text>
<rect x="434.25" y="77.60" width="7.57" height="195.80" fill="#C17DF7" stroke="#4B1A78" stroke-width="0.6"/>
<clipPath id="c11"><rect x="434.25" y="77.60" width="7.57" height="195.80"/></clipPath>
<path clip-path="url(#c11)" d="M434.25 273.40L441.82 280.80M434.25 264.40L441.82 271.80M434.25 255.40L441.82 262.80M434.25 246.40L441.82 253.80M434.25 237.40L441.82 244.80M434.25 228.40L441.82 235.80M434.25 219.40L441.82 226.80M434.25 210.40L441.82 217.80M434.25 201.40L441.82 208.80M434.25 192.40L441.82 199.80M434.25 183.40L441.82 190.80M434.25 174.40L441.82 181.80M434.25 165.40L441.82 172.80M434.25 156.40L441.82 163.80M434.25 147.40L441.82 154.80M434.25 138.40L441.82 145.80M434.25 129.40L441.82 136.80M434.25 120.40L441.82 127.80M434.25 111.40L441.82 118.80M434.25 102.40L441.82 109.80M434.25 93.40L441.82 100.80M434.25 84.40L441.82 91.80M434.25 75.40L441.82 82.80M434.25 66.40L441.82 73.80" stroke="#4B1A78" stroke-width="0.65" fill="none"/>
<path d="M438.50 59.50V96.50" stroke="#686868" stroke-width="0.85" fill="none"/>
<path d="M436.10 59.50h4.8M436.10 96.50h4.8" stroke="#3a3a3a" stroke-width="0.85" fill="none"/>
<text x="438.50" y="58.10" font-size="5" fill="#2a2a2a" text-anchor="middle" stroke="#2a2a2a" stroke-width="0.1">Aa</text>
<rect x="441.82" y="253.00" width="7.57" height="20.40" fill="#69098F" stroke="#2E0048" stroke-width="0.6"/>
<path d="M445.50 248.50V257.50" stroke="#686868" stroke-width="0.85" fill="none"/>
<path d="M443.10 248.50h4.8M443.10 257.50h4.8" stroke="#3a3a3a" stroke-width="0.85" fill="none"/>
<text x="445.50" y="247.10" font-size="5" fill="#2a2a2a" text-anchor="middle" stroke="#2a2a2a" stroke-width="0.1">Aa</text>
<rect x="449.39" y="248.00" width="7.57" height="25.40" fill="#69098F"/>
<path d="M449.5 273.4V248.00H456.5V273.4" stroke="#22003A" stroke-width="0.85" fill="none"/>
<path d="M449.69 271.50H456.66M449.69 266.50H456.66M449.69 261.50H456.66M449.69 256.50H456.66M449.69 251.50H456.66" stroke="#22003A" stroke-width="0.7" fill="none"/>
<path d="M449.69 269.00H456.66M449.69 264.00H456.66M449.69 259.00H456.66M449.69 254.00H456.66M449.69 249.00H456.66" stroke="#22003A" stroke-width="0.7" stroke-opacity="0.6" fill="none"/>
<path d="M453.50 247.50V249.50" stroke="#686868" stroke-width="0.85" fill="none"/>
<path d="M451.10 247.50h4.8M451.10 249.50h4.8" stroke="#3a3a3a" stroke-width="0.85" fill="none"/>
<text x="453.50" y="246.10" font-size="5" fill="#2a2a2a" text-anchor="middle" stroke="#2a2a2a" stroke-width="0.1">Ab</text>
<rect x="456.96" y="246.60" width="7.57" height="26.80" fill="#69098F" stroke="#2E0048" stroke-width="0.6"/>
<clipPath id="c12"><rect x="456.96" y="246.60" width="7.57" height="26.80"/></clipPath>
<path clip-path="url(#c12)" d="M456.96 273.40L464.53 280.80M456.96 264.40L464.53 271.80M456.96 255.40L464.53 262.80M456.96 246.40L464.53 253.80M456.96 237.40L464.53 244.80" stroke="#2E0048" stroke-width="0.65" fill="none"/>
<path d="M460.50 245.50V248.50" stroke="#686868" stroke-width="0.85" fill="none"/>
<path d="M458.10 245.50h4.8M458.10 248.50h4.8" stroke="#3a3a3a" stroke-width="0.85" fill="none"/>
<text x="460.50" y="244.10" font-size="5" fill="#2a2a2a" text-anchor="middle" stroke="#2a2a2a" stroke-width="0.1">Ab</text>
<rect x="471.40" y="163.00" width="7.47" height="110.40" fill="#C6CFFA" stroke="#7C86C0" stroke-width="0.6"/>
<path d="M475.50 157.50V169.50" stroke="#686868" stroke-width="0.85" fill="none"/>
<path d="M473.10 157.50h4.8M473.10 169.50h4.8" stroke="#3a3a3a" stroke-width="0.85" fill="none"/>
<text x="475.50" y="156.10" font-size="5" fill="#2a2a2a" text-anchor="middle" stroke="#2a2a2a" stroke-width="0.1">Aa</text>
<rect x="478.87" y="146.40" width="7.47" height="127.00" fill="#C6CFFA"/>
<path d="M478.5 273.4V146.40H486.5V273.4" stroke="#41466c" stroke-width="0.85" fill="none"/>
<path d="M479.17 271.50H486.04M479.17 266.50H486.04M479.17 261.50H486.04M479.17 256.50H486.04M479.17 251.50H486.04M479.17 246.50H486.04M479.17 241.50H486.04M479.17 236.50H486.04M479.17 231.50H486.04M479.17 226.50H486.04M479.17 221.50H486.04M479.17 216.50H486.04M479.17 211.50H486.04M479.17 206.50H486.04M479.17 201.50H486.04M479.17 196.50H486.04M479.17 191.50H486.04M479.17 186.50H486.04M479.17 181.50H486.04M479.17 176.50H486.04M479.17 171.50H486.04M479.17 166.50H486.04M479.17 161.50H486.04M479.17 156.50H486.04M479.17 151.50H486.04" stroke="#41466c" stroke-width="0.7" fill="none"/>
<path d="M479.17 269.00H486.04M479.17 264.00H486.04M479.17 259.00H486.04M479.17 254.00H486.04M479.17 249.00H486.04M479.17 244.00H486.04M479.17 239.00H486.04M479.17 234.00H486.04M479.17 229.00H486.04M479.17 224.00H486.04M479.17 219.00H486.04M479.17 214.00H486.04M479.17 209.00H486.04M479.17 204.00H486.04M479.17 199.00H486.04M479.17 194.00H486.04M479.17 189.00H486.04M479.17 184.00H486.04M479.17 179.00H486.04M479.17 174.00H486.04M479.17 169.00H486.04M479.17 164.00H486.04M479.17 159.00H486.04M479.17 154.00H486.04M479.17 149.00H486.04" stroke="#41466c" stroke-width="0.7" stroke-opacity="0.6" fill="none"/>
<path d="M482.50 143.50V150.50" stroke="#686868" stroke-width="0.85" fill="none"/>
<path d="M480.10 143.50h4.8M480.10 150.50h4.8" stroke="#3a3a3a" stroke-width="0.85" fill="none"/>
<text x="482.50" y="142.10" font-size="5" fill="#2a2a2a" text-anchor="middle" stroke="#2a2a2a" stroke-width="0.1">Aa</text>
<rect x="486.34" y="147.60" width="7.47" height="125.80" fill="#C6CFFA" stroke="#7C86C0" stroke-width="0.6"/>
<clipPath id="c13"><rect x="486.34" y="147.60" width="7.47" height="125.80"/></clipPath>
<path clip-path="url(#c13)" d="M486.34 273.40L493.81 280.80M486.34 264.40L493.81 271.80M486.34 255.40L493.81 262.80M486.34 246.40L493.81 253.80M486.34 237.40L493.81 244.80M486.34 228.40L493.81 235.80M486.34 219.40L493.81 226.80M486.34 210.40L493.81 217.80M486.34 201.40L493.81 208.80M486.34 192.40L493.81 199.80M486.34 183.40L493.81 190.80M486.34 174.40L493.81 181.80M486.34 165.40L493.81 172.80M486.34 156.40L493.81 163.80M486.34 147.40L493.81 154.80M486.34 138.40L493.81 145.80" stroke="#4A5590" stroke-width="0.65" fill="none"/>
<path d="M490.50 141.50V154.50" stroke="#686868" stroke-width="0.85" fill="none"/>
<path d="M488.10 141.50h4.8M488.10 154.50h4.8" stroke="#3a3a3a" stroke-width="0.85" fill="none"/>
<text x="490.50" y="140.10" font-size="5" fill="#2a2a2a" text-anchor="middle" stroke="#2a2a2a" stroke-width="0.1">Aa</text>
<rect x="493.81" y="124.00" width="7.47" height="149.40" fill="#C17DF7" stroke="#4B1A78" stroke-width="0.6"/>
<path d="M497.50 113.50V134.50" stroke="#686868" stroke-width="0.85" fill="none"/>
<path d="M495.10 113.50h4.8M495.10 134.50h4.8" stroke="#3a3a3a" stroke-width="0.85" fill="none"/>
<text x="497.50" y="112.10" font-size="5" fill="#2a2a2a" text-anchor="middle" stroke="#2a2a2a" stroke-width="0.1">Aa</text>
<rect x="501.28" y="129.00" width="7.47" height="144.40" fill="#C17DF7"/>
<path d="M501.5 273.4V129.00H508.5V273.4" stroke="#3A0E66" stroke-width="0.85" fill="none"/>
<path d="M501.58 271.50H508.45M501.58 266.50H508.45M501.58 261.50H508.45M501.58 256.50H508.45M501.58 251.50H508.45M501.58 246.50H508.45M501.58 241.50H508.45M501.58 236.50H508.45M501.58 231.50H508.45M501.58 226.50H508.45M501.58 221.50H508.45M501.58 216.50H508.45M501.58 211.50H508.45M501.58 206.50H508.45M501.58 201.50H508.45M501.58 196.50H508.45M501.58 191.50H508.45M501.58 186.50H508.45M501.58 181.50H508.45M501.58 176.50H508.45M501.58 171.50H508.45M501.58 166.50H508.45M501.58 161.50H508.45M501.58 156.50H508.45M501.58 151.50H508.45M501.58 146.50H508.45M501.58 141.50H508.45M501.58 136.50H508.45M501.58 131.50H508.45" stroke="#3A0E66" stroke-width="0.7" fill="none"/>
<path d="M501.58 269.00H508.45M501.58 264.00H508.45M501.58 259.00H508.45M501.58 254.00H508.45M501.58 249.00H508.45M501.58 244.00H508.45M501.58 239.00H508.45M501.58 234.00H508.45M501.58 229.00H508.45M501.58 224.00H508.45M501.58 219.00H508.45M501.58 214.00H508.45M501.58 209.00H508.45M501.58 204.00H508.45M501.58 199.00H508.45M501.58 194.00H508.45M501.58 189.00H508.45M501.58 184.00H508.45M501.58 179.00H508.45M501.58 174.00H508.45M501.58 169.00H508.45M501.58 164.00H508.45M501.58 159.00H508.45M501.58 154.00H508.45M501.58 149.00H508.45M501.58 144.00H508.45M501.58 139.00H508.45M501.58 134.00H508.45" stroke="#3A0E66" stroke-width="0.7" stroke-opacity="0.6" fill="none"/>
<path d="M505.50 127.50V131.50" stroke="#686868" stroke-width="0.85" fill="none"/>
<path d="M503.10 127.50h4.8M503.10 131.50h4.8" stroke="#3a3a3a" stroke-width="0.85" fill="none"/>
<text x="505.50" y="126.10" font-size="5" fill="#2a2a2a" text-anchor="middle" stroke="#2a2a2a" stroke-width="0.1">Aa</text>
<rect x="508.75" y="116.00" width="7.47" height="157.40" fill="#C17DF7" stroke="#4B1A78" stroke-width="0.6"/>
<clipPath id="c14"><rect x="508.75" y="116.00" width="7.47" height="157.40"/></clipPath>
<path clip-path="url(#c14)" d="M508.75 273.40L516.22 280.80M508.75 264.40L516.22 271.80M508.75 255.40L516.22 262.80M508.75 246.40L516.22 253.80M508.75 237.40L516.22 244.80M508.75 228.40L516.22 235.80M508.75 219.40L516.22 226.80M508.75 210.40L516.22 217.80M508.75 201.40L516.22 208.80M508.75 192.40L516.22 199.80M508.75 183.40L516.22 190.80M508.75 174.40L516.22 181.80M508.75 165.40L516.22 172.80M508.75 156.40L516.22 163.80M508.75 147.40L516.22 154.80M508.75 138.40L516.22 145.80M508.75 129.40L516.22 136.80M508.75 120.40L516.22 127.80M508.75 111.40L516.22 118.80M508.75 102.40L516.22 109.80" stroke="#4B1A78" stroke-width="0.65" fill="none"/>
<path d="M512.50 113.50V120.50" stroke="#686868" stroke-width="0.85" fill="none"/>
<path d="M510.10 113.50h4.8M510.10 120.50h4.8" stroke="#3a3a3a" stroke-width="0.85" fill="none"/>
<text x="512.50" y="112.10" font-size="5" fill="#2a2a2a" text-anchor="middle" stroke="#2a2a2a" stroke-width="0.1">Aa</text>
<rect x="516.22" y="237.40" width="7.47" height="36.00" fill="#69098F" stroke="#2E0048" stroke-width="0.6"/>
<path d="M519.50 236.50V239.50" stroke="#686868" stroke-width="0.85" fill="none"/>
<path d="M517.10 236.50h4.8M517.10 239.50h4.8" stroke="#3a3a3a" stroke-width="0.85" fill="none"/>
<text x="519.50" y="235.10" font-size="5" fill="#2a2a2a" text-anchor="middle" stroke="#2a2a2a" stroke-width="0.1">Aa</text>
<rect x="523.69" y="230.60" width="7.47" height="42.80" fill="#69098F"/>
<path d="M523.5 273.4V230.60H531.5V273.4" stroke="#22003A" stroke-width="0.85" fill="none"/>
<path d="M523.99 271.50H530.86M523.99 266.50H530.86M523.99 261.50H530.86M523.99 256.50H530.86M523.99 251.50H530.86M523.99 246.50H530.86M523.99 241.50H530.86M523.99 236.50H530.86M523.99 231.50H530.86" stroke="#22003A" stroke-width="0.7" fill="none"/>
<path d="M523.99 269.00H530.86M523.99 264.00H530.86M523.99 259.00H530.86M523.99 254.00H530.86M523.99 249.00H530.86M523.99 244.00H530.86M523.99 239.00H530.86M523.99 234.00H530.86" stroke="#22003A" stroke-width="0.7" stroke-opacity="0.6" fill="none"/>
<path d="M527.50 229.50V232.50" stroke="#686868" stroke-width="0.85" fill="none"/>
<path d="M525.10 229.50h4.8M525.10 232.50h4.8" stroke="#3a3a3a" stroke-width="0.85" fill="none"/>
<text x="527.50" y="228.10" font-size="5" fill="#2a2a2a" text-anchor="middle" stroke="#2a2a2a" stroke-width="0.1">Aa</text>
<rect x="531.16" y="234.00" width="7.47" height="39.40" fill="#69098F" stroke="#2E0048" stroke-width="0.6"/>
<clipPath id="c15"><rect x="531.16" y="234.00" width="7.47" height="39.40"/></clipPath>
<path clip-path="url(#c15)" d="M531.16 273.40L538.63 280.80M531.16 264.40L538.63 271.80M531.16 255.40L538.63 262.80M531.16 246.40L538.63 253.80M531.16 237.40L538.63 244.80M531.16 228.40L538.63 235.80M531.16 219.40L538.63 226.80" stroke="#2E0048" stroke-width="0.65" fill="none"/>
<path d="M534.50 230.50V237.50" stroke="#686868" stroke-width="0.85" fill="none"/>
<path d="M532.10 230.50h4.8M532.10 237.50h4.8" stroke="#3a3a3a" stroke-width="0.85" fill="none"/>
<text x="534.50" y="229.10" font-size="5" fill="#2a2a2a" text-anchor="middle" stroke="#2a2a2a" stroke-width="0.1">Aa</text>
<rect x="547.60" y="175.40" width="7.53" height="98.00" fill="#C6CFFA" stroke="#7C86C0" stroke-width="0.6"/>
<path d="M551.50 166.50V184.50" stroke="#686868" stroke-width="0.85" fill="none"/>
<path d="M549.10 166.50h4.8M549.10 184.50h4.8" stroke="#3a3a3a" stroke-width="0.85" fill="none"/>
<text x="551.50" y="165.10" font-size="5" fill="#2a2a2a" text-anchor="middle" stroke="#2a2a2a" stroke-width="0.1">Aa</text>
<rect x="555.13" y="189.00" width="7.53" height="84.40" fill="#C6CFFA"/>
<path d="M555.5 273.4V189.00H562.5V273.4" stroke="#41466c" stroke-width="0.85" fill="none"/>
<path d="M555.43 271.50H562.36M555.43 266.50H562.36M555.43 261.50H562.36M555.43 256.50H562.36M555.43 251.50H562.36M555.43 246.50H562.36M555.43 241.50H562.36M555.43 236.50H562.36M555.43 231.50H562.36M555.43 226.50H562.36M555.43 221.50H562.36M555.43 216.50H562.36M555.43 211.50H562.36M555.43 206.50H562.36M555.43 201.50H562.36M555.43 196.50H562.36M555.43 191.50H562.36" stroke="#41466c" stroke-width="0.7" fill="none"/>
<path d="M555.43 269.00H562.36M555.43 264.00H562.36M555.43 259.00H562.36M555.43 254.00H562.36M555.43 249.00H562.36M555.43 244.00H562.36M555.43 239.00H562.36M555.43 234.00H562.36M555.43 229.00H562.36M555.43 224.00H562.36M555.43 219.00H562.36M555.43 214.00H562.36M555.43 209.00H562.36M555.43 204.00H562.36M555.43 199.00H562.36M555.43 194.00H562.36" stroke="#41466c" stroke-width="0.7" stroke-opacity="0.6" fill="none"/>
<path d="M558.50 187.50V191.50" stroke="#686868" stroke-width="0.85" fill="none"/>
<path d="M556.10 187.50h4.8M556.10 191.50h4.8" stroke="#3a3a3a" stroke-width="0.85" fill="none"/>
<text x="558.50" y="186.10" font-size="5" fill="#2a2a2a" text-anchor="middle" stroke="#2a2a2a" stroke-width="0.1">Ab</text>
<rect x="562.66" y="180.00" width="7.53" height="93.40" fill="#C6CFFA" stroke="#7C86C0" stroke-width="0.6"/>
<clipPath id="c16"><rect x="562.66" y="180.00" width="7.53" height="93.40"/></clipPath>
<path clip-path="url(#c16)" d="M562.66 273.40L570.19 280.80M562.66 264.40L570.19 271.80M562.66 255.40L570.19 262.80M562.66 246.40L570.19 253.80M562.66 237.40L570.19 244.80M562.66 228.40L570.19 235.80M562.66 219.40L570.19 226.80M562.66 210.40L570.19 217.80M562.66 201.40L570.19 208.80M562.66 192.40L570.19 199.80M562.66 183.40L570.19 190.80M562.66 174.40L570.19 181.80M562.66 165.40L570.19 172.80" stroke="#4A5590" stroke-width="0.65" fill="none"/>
<path d="M566.50 174.50V186.50" stroke="#686868" stroke-width="0.85" fill="none"/>
<path d="M564.10 174.50h4.8M564.10 186.50h4.8" stroke="#3a3a3a" stroke-width="0.85" fill="none"/>
<text x="566.50" y="173.10" font-size="5" fill="#2a2a2a" text-anchor="middle" stroke="#2a2a2a" stroke-width="0.1">Ab</text>
<rect x="570.19" y="87.40" width="7.53" height="186.00" fill="#C17DF7" stroke="#4B1A78" stroke-width="0.6"/>
<path d="M573.50 58.50V116.50" stroke="#686868" stroke-width="0.85" fill="none"/>
<path d="M571.10 58.50h4.8M571.10 116.50h4.8" stroke="#3a3a3a" stroke-width="0.85" fill="none"/>
<text x="573.50" y="57.10" font-size="5" fill="#2a2a2a" text-anchor="middle" stroke="#2a2a2a" stroke-width="0.1">Aa</text>
<rect x="577.72" y="131.60" width="7.53" height="141.80" fill="#C17DF7"/>
<path d="M577.5 273.4V131.60H585.5V273.4" stroke="#3A0E66" stroke-width="0.85" fill="none"/>
<path d="M578.02 271.50H584.95M578.02 266.50H584.95M578.02 261.50H584.95M578.02 256.50H584.95M578.02 251.50H584.95M578.02 246.50H584.95M578.02 241.50H584.95M578.02 236.50H584.95M578.02 231.50H584.95M578.02 226.50H584.95M578.02 221.50H584.95M578.02 216.50H584.95M578.02 211.50H584.95M578.02 206.50H584.95M578.02 201.50H584.95M578.02 196.50H584.95M578.02 191.50H584.95M578.02 186.50H584.95M578.02 181.50H584.95M578.02 176.50H584.95M578.02 171.50H584.95M578.02 166.50H584.95M578.02 161.50H584.95M578.02 156.50H584.95M578.02 151.50H584.95M578.02 146.50H584.95M578.02 141.50H584.95M578.02 136.50H584.95" stroke="#3A0E66" stroke-width="0.7" fill="none"/>
<path d="M578.02 269.00H584.95M578.02 264.00H584.95M578.02 259.00H584.95M578.02 254.00H584.95M578.02 249.00H584.95M578.02 244.00H584.95M578.02 239.00H584.95M578.02 234.00H584.95M578.02 229.00H584.95M578.02 224.00H584.95M578.02 219.00H584.95M578.02 214.00H584.95M578.02 209.00H584.95M578.02 204.00H584.95M578.02 199.00H584.95M578.02 194.00H584.95M578.02 189.00H584.95M578.02 184.00H584.95M578.02 179.00H584.95M578.02 174.00H584.95M578.02 169.00H584.95M578.02 164.00H584.95M578.02 159.00H584.95M578.02 154.00H584.95M578.02 149.00H584.95M578.02 144.00H584.95M578.02 139.00H584.95M578.02 134.00H584.95" stroke="#3A0E66" stroke-width="0.7" stroke-opacity="0.6" fill="none"/>
<path d="M581.50 125.50V137.50" stroke="#686868" stroke-width="0.85" fill="none"/>
<path d="M579.10 125.50h4.8M579.10 137.50h4.8" stroke="#3a3a3a" stroke-width="0.85" fill="none"/>
<text x="581.50" y="124.10" font-size="5" fill="#2a2a2a" text-anchor="middle" stroke="#2a2a2a" stroke-width="0.1">Aa</text>
<rect x="585.25" y="57.00" width="7.53" height="216.40" fill="#C17DF7" stroke="#4B1A78" stroke-width="0.6"/>
<clipPath id="c17"><rect x="585.25" y="57.00" width="7.53" height="216.40"/></clipPath>
<path clip-path="url(#c17)" d="M585.25 273.40L592.78 280.80M585.25 264.40L592.78 271.80M585.25 255.40L592.78 262.80M585.25 246.40L592.78 253.80M585.25 237.40L592.78 244.80M585.25 228.40L592.78 235.80M585.25 219.40L592.78 226.80M585.25 210.40L592.78 217.80M585.25 201.40L592.78 208.80M585.25 192.40L592.78 199.80M585.25 183.40L592.78 190.80M585.25 174.40L592.78 181.80M585.25 165.40L592.78 172.80M585.25 156.40L592.78 163.80M585.25 147.40L592.78 154.80M585.25 138.40L592.78 145.80M585.25 129.40L592.78 136.80M585.25 120.40L592.78 127.80M585.25 111.40L592.78 118.80M585.25 102.40L592.78 109.80M585.25 93.40L592.78 100.80M585.25 84.40L592.78 91.80M585.25 75.40L592.78 82.80M585.25 66.40L592.78 73.80M585.25 57.40L592.78 64.80M585.25 48.40L592.78 55.80" stroke="#4B1A78" stroke-width="0.65" fill="none"/>
<path d="M589.50 35.50V79.50" stroke="#686868" stroke-width="0.85" fill="none"/>
<path d="M587.10 35.50h4.8M587.10 79.50h4.8" stroke="#3a3a3a" stroke-width="0.85" fill="none"/>
<text x="589.50" y="34.10" font-size="5" fill="#2a2a2a" text-anchor="middle" stroke="#2a2a2a" stroke-width="0.1">Aa</text>
<rect x="592.78" y="247.00" width="7.53" height="26.40" fill="#69098F" stroke="#2E0048" stroke-width="0.6"/>
<path d="M596.50 244.50V249.50" stroke="#686868" stroke-width="0.85" fill="none"/>
<path d="M594.10 244.50h4.8M594.10 249.50h4.8" stroke="#3a3a3a" stroke-width="0.85" fill="none"/>
<text x="596.50" y="243.10" font-size="5" fill="#2a2a2a" text-anchor="middle" stroke="#2a2a2a" stroke-width="0.1">Ab</text>
<rect x="600.31" y="245.00" width="7.53" height="28.40" fill="#69098F"/>
<path d="M600.5 273.4V245.00H607.5V273.4" stroke="#22003A" stroke-width="0.85" fill="none"/>
<path d="M600.61 271.50H607.54M600.61 266.50H607.54M600.61 261.50H607.54M600.61 256.50H607.54M600.61 251.50H607.54M600.61 246.50H607.54" stroke="#22003A" stroke-width="0.7" fill="none"/>
<path d="M600.61 269.00H607.54M600.61 264.00H607.54M600.61 259.00H607.54M600.61 254.00H607.54M600.61 249.00H607.54" stroke="#22003A" stroke-width="0.7" stroke-opacity="0.6" fill="none"/>
<path d="M604.50 243.50V246.50" stroke="#686868" stroke-width="0.85" fill="none"/>
<path d="M602.10 243.50h4.8M602.10 246.50h4.8" stroke="#3a3a3a" stroke-width="0.85" fill="none"/>
<text x="604.50" y="242.10" font-size="5" fill="#2a2a2a" text-anchor="middle" stroke="#2a2a2a" stroke-width="0.1">Ab</text>
<rect x="607.84" y="252.00" width="7.53" height="21.40" fill="#69098F" stroke="#2E0048" stroke-width="0.6"/>
<clipPath id="c18"><rect x="607.84" y="252.00" width="7.53" height="21.40"/></clipPath>
<path clip-path="url(#c18)" d="M607.84 273.40L615.37 280.80M607.84 264.40L615.37 271.80M607.84 255.40L615.37 262.80M607.84 246.40L615.37 253.80M607.84 237.40L615.37 244.80" stroke="#2E0048" stroke-width="0.65" fill="none"/>
<path d="M611.50 251.50V253.50" stroke="#686868" stroke-width="0.85" fill="none"/>
<path d="M609.10 251.50h4.8M609.10 253.50h4.8" stroke="#3a3a3a" stroke-width="0.85" fill="none"/>
<text x="611.50" y="250.10" font-size="5" fill="#2a2a2a" text-anchor="middle" stroke="#2a2a2a" stroke-width="0.1">Ab</text>
<path d="M388.6 273.59999999999997H623.4000000000001" stroke="#111" stroke-width="1.4" fill="none"/>
<path d="M430.6 273.4v5.6" stroke="#111" stroke-width="1.2"/>
<path d="M504.5 273.4v5.6" stroke="#111" stroke-width="1.2"/>
<path d="M581.4 273.4v5.6" stroke="#111" stroke-width="1.2"/>
<path d="M389.3 273.4v3.4" stroke="#111" stroke-width="1.2"/>
<path d="M467.4 273.4v3.4" stroke="#111" stroke-width="1.2"/>
<path d="M542.8 273.4v3.4" stroke="#111" stroke-width="1.2"/>
<path d="M622.7 273.4v3.4" stroke="#111" stroke-width="1.2"/>
<text x="430.60" y="288.80" font-size="9" fill="#222" text-anchor="middle">JP</text>
<text x="504.60" y="288.80" font-size="9" fill="#222" text-anchor="middle">MJ</text>
<text x="581.40" y="288.80" font-size="9" fill="#222" text-anchor="middle">LC</text>
<text x="503.40" y="303.20" font-size="10.3" fill="#111" text-anchor="middle" font-weight="bold">locations</text>
<path d="M389.3 2.4V273.9" stroke="#111" stroke-width="1.35" fill="none"/>
<path d="M622.7 2.4V273.9" stroke="#111" stroke-width="1.35" fill="none"/>
<path d="M389.3 273.40h-5.4M622.7 273.40h5.4M389.3 248.80h-3.2M622.7 248.80h3.2M389.3 224.20h-5.4M622.7 224.20h5.4M389.3 199.60h-3.2M622.7 199.60h3.2M389.3 175.00h-5.4M622.7 175.00h5.4M389.3 150.40h-3.2M622.7 150.40h3.2M389.3 125.80h-5.4M622.7 125.80h5.4M389.3 101.20h-3.2M622.7 101.20h3.2M389.3 76.60h-5.4M622.7 76.60h5.4M389.3 52.00h-3.2M622.7 52.00h3.2M389.3 27.40h-5.4M622.7 27.40h5.4M389.3 2.80h-3.2M622.7 2.80h3.2M389.3 2.4h-3.2M622.7 2.4h3.2" stroke="#111" stroke-width="1.2" fill="none"/>
<text x="379.90" y="276.30" font-size="8.5" fill="#1a1a1a" text-anchor="end">0</text>
<text x="629.80" y="276.30" font-size="8.5" fill="#1a1a1a">0</text>
<text x="379.90" y="227.10" font-size="8.5" fill="#1a1a1a" text-anchor="end">2</text>
<text x="629.80" y="227.10" font-size="8.5" fill="#1a1a1a">2</text>
<text x="379.90" y="177.90" font-size="8.5" fill="#1a1a1a" text-anchor="end">4</text>
<text x="629.80" y="177.90" font-size="8.5" fill="#1a1a1a">4</text>
<text x="379.90" y="128.70" font-size="8.5" fill="#1a1a1a" text-anchor="end">6</text>
<text x="629.80" y="128.70" font-size="8.5" fill="#1a1a1a">6</text>
<text x="379.90" y="79.50" font-size="8.5" fill="#1a1a1a" text-anchor="end">8</text>
<text x="629.80" y="79.50" font-size="8.5" fill="#1a1a1a">8</text>
<text x="379.90" y="30.30" font-size="8.5" fill="#1a1a1a" text-anchor="end">10</text>
<text x="629.80" y="30.30" font-size="8.5" fill="#1a1a1a">10</text>
<text x="357.30" y="140.40" font-size="8.7" fill="#111" text-anchor="middle" transform="rotate(-90 357.30 140.40)" stroke="#111" stroke-width="0.15">Wall thickness (µm)</text>
<text x="367.90" y="141.40" font-size="8.4" fill="#111" text-anchor="middle" transform="rotate(-90 367.90 141.40)" stroke="#111" stroke-width="0.15">Lumen diameter (µm)</text>
<text x="648.00" y="141.00" font-size="8.75" fill="#111" text-anchor="middle" transform="rotate(-90 648.00 141.00)" stroke="#111" stroke-width="0.15">(2Wt/Ld)</text>
<rect x="642.5" y="2.5" width="40.5" height="73" fill="#fff" stroke="#7a7a7a" stroke-width="1"/>
<text x="648.80" y="11.80" font-size="10.5" fill="#111" font-weight="bold">B</text>
<rect x="647.4" y="14.50" width="10.8" height="5.0" fill="#C6CFFA" stroke="#4a4a55" stroke-width="0.8"/>
<text x="660.40" y="18.70" font-size="5" fill="#111">1-Wt</text>
<rect x="647.4" y="20.95" width="10.8" height="5.0" fill="#C6CFFA" stroke="#4a4a55" stroke-width="0.8"/>
<path d="M647.4 23.45h10.8" stroke="#4a4a55" stroke-width="0.7"/>
<text x="660.40" y="25.15" font-size="5" fill="#111">2-Wt</text>
<rect x="647.4" y="27.40" width="10.8" height="5.0" fill="#C6CFFA" stroke="#4a4a55" stroke-width="0.8"/>
<path d="M647.9 27.40L653.9 32.40" stroke="#4a4a55" stroke-width="0.7"/>
<text x="660.40" y="31.60" font-size="5" fill="#111">3-Wt</text>
<rect x="647.4" y="33.85" width="10.8" height="5.0" fill="#C17DF7" stroke="#4a4a55" stroke-width="0.8"/>
<text x="660.40" y="38.05" font-size="5" fill="#111">1-Ld</text>
<rect x="647.4" y="40.30" width="10.8" height="5.0" fill="#C17DF7" stroke="#4a4a55" stroke-width="0.8"/>
<path d="M647.4 42.80h10.8" stroke="#4a4a55" stroke-width="0.7"/>
<text x="660.40" y="44.50" font-size="5" fill="#111">2-Ld</text>
<rect x="647.4" y="46.75" width="10.8" height="5.0" fill="#C17DF7" stroke="#4a4a55" stroke-width="0.8"/>
<path d="M647.9 46.75L653.9 51.75" stroke="#4a4a55" stroke-width="0.7"/>
<text x="660.40" y="50.95" font-size="5" fill="#111">3-Ld</text>
<rect x="647.4" y="53.20" width="10.8" height="5.0" fill="#69098F" stroke="#4a4a55" stroke-width="0.8"/>
<text x="660.40" y="57.40" font-size="5" fill="#111">1-2Wt/Ld</text>
<rect x="647.4" y="59.65" width="10.8" height="5.0" fill="#69098F" stroke="#4a4a55" stroke-width="0.8"/>
<path d="M647.4 62.15h10.8" stroke="#4a4a55" stroke-width="0.7"/>
<text x="660.40" y="63.85" font-size="5" fill="#111">2-2Wt/Ld</text>
<rect x="647.4" y="66.10" width="10.8" height="5.0" fill="#69098F" stroke="#4a4a55" stroke-width="0.8"/>
<path d="M647.9 66.10L653.9 71.10" stroke="#4a4a55" stroke-width="0.7"/>
<text x="660.40" y="70.30" font-size="5" fill="#111">3-2Wt/Ld</text>
</svg></body></html>
